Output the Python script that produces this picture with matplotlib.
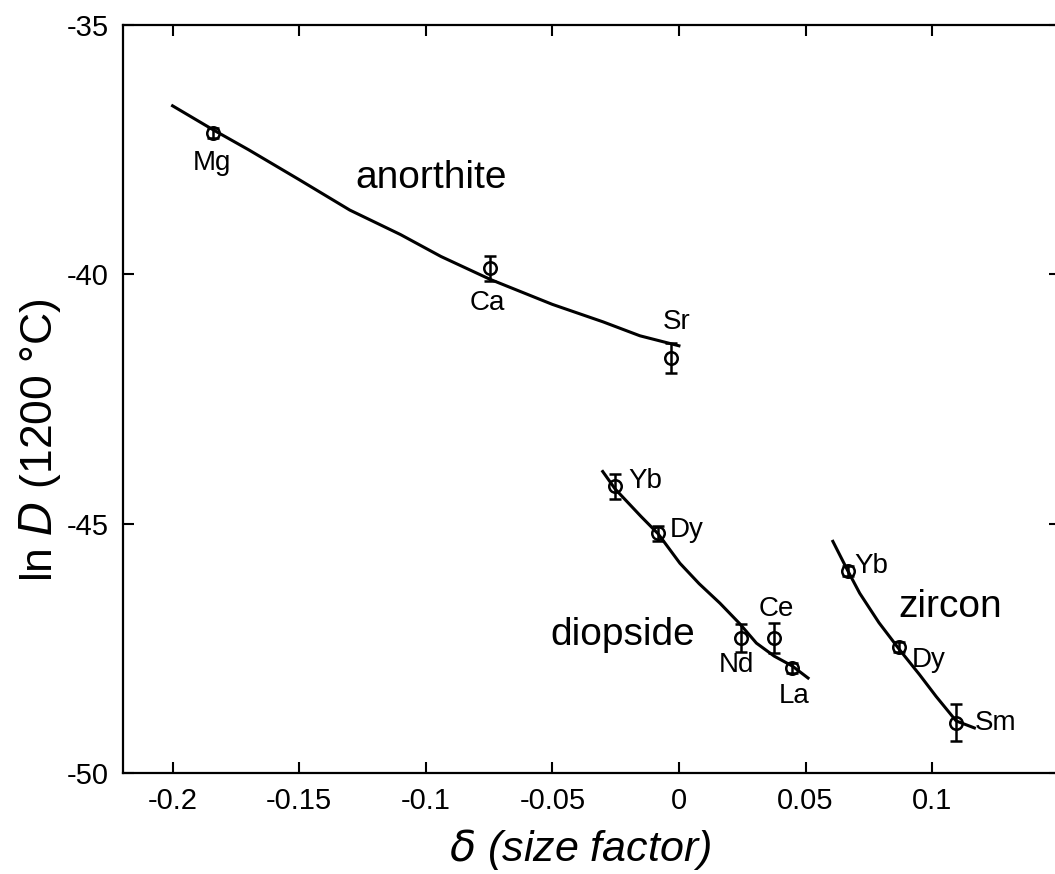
import matplotlib.pyplot as plt

plt.rcParams['font.family'] = ['Liberation Sans', 'DejaVu Sans']

# anorthite
anoX = [-0.184, -0.0745, -0.003]
anoY = [-37.17, -39.88, -41.67]
anoErr = [0.1, 0.25, 0.3]
anoCurveX = [-0.2, -0.184, -0.17, -0.15, -0.13, -0.11, -0.094, -0.0745, -0.05, -0.03, -0.0154, 0.0]
anoCurveY = [-36.62, -37.1, -37.5, -38.1, -38.71, -39.2, -39.64, -40.1, -40.6, -40.95, -41.23, -41.43]

# diopside
dioX = [-0.0252, -0.0082, 0.0244, 0.0376, 0.0448]
dioY = [-44.25, -45.19, -47.28, -47.28, -47.89]
dioErr = [0.25, 0.15, 0.28, 0.3, 0.1]
dioCurveX = [-0.0301, -0.0252, -0.015, -0.0082, 0.0004, 0.008, 0.0162, 0.024, 0.0306, 0.0376, 0.0448, 0.051]
dioCurveY = [-43.95, -44.3, -44.85, -45.2, -45.79, -46.2, -46.59, -47.0, -47.39, -47.65, -47.85, -48.09]

# zircon
zirX = [0.0668, 0.0869, 0.1095]
zirY = [-45.94, -47.46, -48.99]
zirErr = [0.1, 0.1, 0.37]
zirCurveX = [0.0608, 0.0668, 0.0714, 0.079, 0.0871, 0.095, 0.1016, 0.1095, 0.1167]
zirCurveY = [-45.35, -45.95, -46.39, -46.98, -47.52, -48.02, -48.46, -48.95, -49.09]

fig = plt.figure(figsize=(10.55, 8.74), dpi=100)
ax = fig.add_axes([0.1163, 0.1152, 0.8884, 0.8562])

for cx, cy in [(anoCurveX, anoCurveY), (dioCurveX, dioCurveY), (zirCurveX, zirCurveY)]:
    ax.plot(cx, cy, color='black', linewidth=2.2)

for xs, ys, es in [(anoX, anoY, anoErr), (dioX, dioY, dioErr), (zirX, zirY, zirErr)]:
    ax.errorbar(xs, ys, yerr=es, fmt='o', markersize=9, markerfacecolor='none',
                markeredgecolor='black', markeredgewidth=1.8, ecolor='black',
                elinewidth=1.8, capsize=4, capthick=1.8)

# element labels
lbl = dict(fontsize=20, va='center')
ax.text(-0.1843, -37.77, 'Mg', ha='center', **lbl)
ax.text(-0.0758, -40.58, 'Ca', ha='center', **lbl)
ax.text(-0.001, -40.95, 'Sr', ha='center', **lbl)
ax.text(-0.020, -44.15, 'Yb', ha='left', **lbl)
ax.text(-0.0035, -45.12, 'Dy', ha='left', **lbl)
ax.text(0.0228, -47.83, 'Nd', ha='center', **lbl)
ax.text(0.0385, -46.71, 'Ce', ha='center', **lbl)
ax.text(0.0455, -48.46, 'La', ha='center', **lbl)
ax.text(0.0694, -45.84, 'Yb', ha='left', **lbl)
ax.text(0.0918, -47.73, 'Dy', ha='left', **lbl)
ax.text(0.1167, -48.99, 'Sm', ha='left', **lbl)

# mineral labels
ax.text(-0.098, -38.07, 'anorthite', fontsize=28, ha='center', va='center')
ax.text(-0.022, -47.22, 'diopside', fontsize=28, ha='center', va='center')
ax.text(0.107, -46.66, 'zircon', fontsize=28, ha='center', va='center')

ax.set_xlim(-0.2197, 0.1505)
ax.set_ylim(-50, -35)
ax.set_xticks([-0.2, -0.15, -0.1, -0.05, 0, 0.05, 0.1])
ax.set_xticklabels(['-0.2', '-0.15', '-0.1', '-0.05', '0', '0.05', '0.1'])
ax.set_yticks([-50, -45, -40, -35])
ax.set_yticklabels(['-50', '-45', '-40', '-35'])
ax.tick_params(direction='in', length=8, width=1.5, labelsize=21,
               top=True, right=True, pad=10)
for s in ax.spines.values():
    s.set_linewidth(1.6)

ax.set_xlabel(r'$\delta$ (size factor)', fontsize=31, style='italic')
ax.xaxis.set_label_coords(0.488, -0.072)
ax.set_ylabel(r'ln $D$ (1200 °C)', fontsize=32)
ax.yaxis.set_label_coords(-0.064, 0.445)

fig.savefig('out.png', dpi=100)
